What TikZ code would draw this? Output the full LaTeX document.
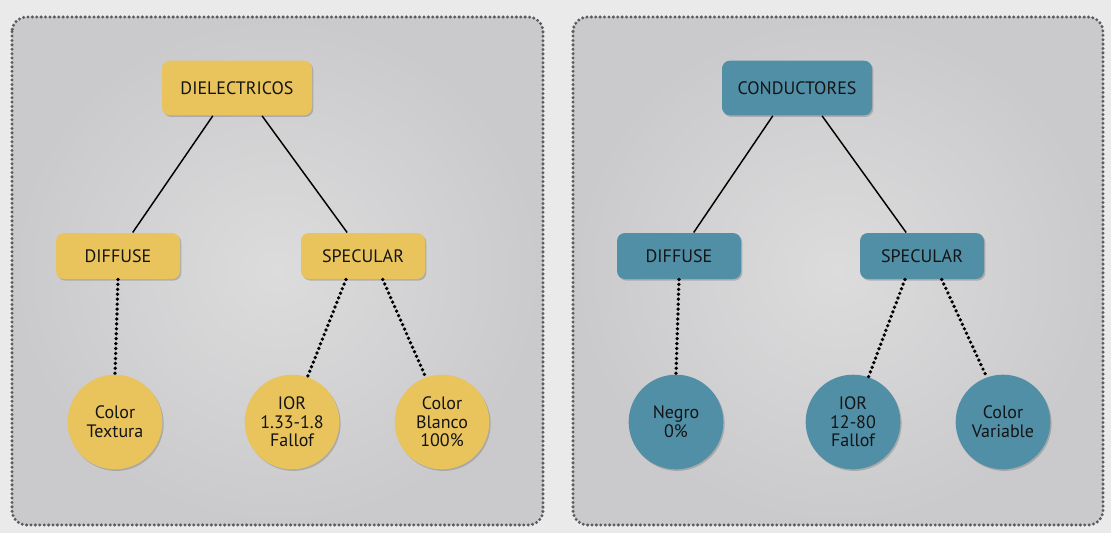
\documentclass[tikz,border=0pt]{standalone}
\usepackage{fontspec}
\setmainfont{PT Sans}
\usetikzlibrary{shadows}

\definecolor{pageback}{RGB}{234,234,235}
\definecolor{panelin}{RGB}{220,220,221}
\definecolor{panelout}{RGB}{202,202,204}
\definecolor{paneledge}{RGB}{92,92,95}
\definecolor{dielyellow}{RGB}{233,195,92}
\definecolor{condteal}{RGB}{80,143,166}
\definecolor{labeltext}{RGB}{20,20,22}

\tikzset{every picture/.style={line width=0.75pt}}
\tikzset{
  panel/.style={draw=paneledge, line width=2.5pt, line cap=round, dash pattern=on 0pt off 3.3pt,
    rounded corners=11pt, inner color=panelin, outer color=panelout},
  topbox/.style={rectangle, rounded corners=6pt, minimum width=112.5pt, minimum height=41pt,
    text=labeltext, font=\fontsize{13.5}{15}\selectfont,
    drop shadow={shadow xshift=1pt, shadow yshift=-1.2pt, opacity=0.45}},
  midbox/.style={topbox, minimum width=93pt, minimum height=34.5pt},
  leafdot/.style={circle, minimum size=71pt, inner sep=0pt, align=center, text=labeltext,
    font=\fontsize{13.5}{14}\selectfont,
    drop shadow={shadow xshift=1pt, shadow yshift=-1.2pt, opacity=0.45}},
  branch/.style={black, line width=1.1pt},
  dotlink/.style={black, line width=2.8pt, line cap=round, dash pattern=on 0pt off 3.7pt},
}

\begin{document}
\begin{tikzpicture}[x=0.75pt,y=0.75pt,yscale=-1,xscale=1]
	% page background and size
	\fill [pageback] (0,0) rectangle (1111,533);
	\useasboundingbox (0,0) rectangle (1111,533);

	% panels
	\path [panel] (12,17) rectangle (543,525);
	\path [panel] (573,17) rectangle (1103,525);

	% Dielectricos tree
	\node [topbox, fill=dielyellow] (dielec) at (237,88) {DIELECTRICOS};
	\node [midbox, fill=dielyellow] (diffL) at (118,256) {DIFFUSE};
	\node [midbox, fill=dielyellow] (specL) at (363,256) {SPECULAR};
	\node [leafdot, fill=dielyellow] (textura) at (115,422) {Color\\Textura};
	\node [leafdot, fill=dielyellow] (iorL) at (292,422) {IOR\\1.33-1.8\\Fallof};
	\node [leafdot, fill=dielyellow] (blanco) at (442,422) {Color\\Blanco\\100\%};

	\draw [branch] (dielec.-131) -- (diffL.58);
	\draw [branch] (dielec.-48) -- (specL.124);
	\draw [dotlink] (diffL.south) -- (textura.north);
	\draw [dotlink] (specL.-126) -- (iorL.71);
	\draw [dotlink] (specL.-50) -- (blanco.110);

	% Conductores tree
	\node [topbox, fill=condteal] (conduc) at (797,88) {CONDUCTORES};
	\node [midbox, fill=condteal] (diffR) at (679,256) {DIFFUSE};
	\node [midbox, fill=condteal] (specR) at (922,256) {SPECULAR};
	\node [leafdot, fill=condteal] (negro) at (676,422) {Negro\\0\%};
	\node [leafdot, fill=condteal] (iorR) at (853,422) {IOR\\12-80\\Fallof};
	\node [leafdot, fill=condteal] (variable) at (1003,422) {Color\\Variable};

	\draw [branch] (conduc.-131) -- (diffR.58);
	\draw [branch] (conduc.-48) -- (specR.124);
	\draw [dotlink] (diffR.south) -- (negro.north);
	\draw [dotlink] (specR.-126) -- (iorR.71);
	\draw [dotlink] (specR.-50) -- (variable.110);

\end{tikzpicture}
\end{document}
